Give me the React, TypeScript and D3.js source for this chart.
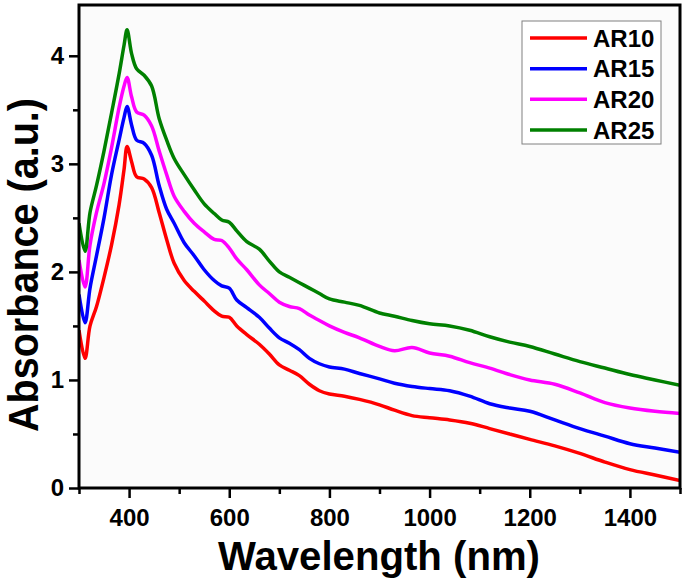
import React, { useEffect, useRef } from 'react'
import * as d3 from 'd3'

// wavelength grid (nm) shared by every spectrum
const wavelengths = [300, 312, 322, 335, 350, 365, 380, 390, 396, 405, 415, 430, 445, 460, 475, 490, 510, 530, 550, 570, 585, 600, 615, 635, 660, 680, 700, 720, 740, 760, 780, 800, 830, 860, 900, 930, 965, 1000, 1040, 1080, 1120, 1160, 1200, 1250, 1300, 1350, 1400, 1450, 1500]

const ar10 = [1.46, 1.20, 1.50, 1.68, 1.95, 2.25, 2.62, 2.95, 3.16, 3.02, 2.88, 2.86, 2.78, 2.55, 2.30, 2.08, 1.92, 1.82, 1.73, 1.64, 1.59, 1.58, 1.50, 1.42, 1.33, 1.24, 1.14, 1.09, 1.04, 0.96, 0.90, 0.87, 0.85, 0.82, 0.77, 0.72, 0.67, 0.65, 0.63, 0.60, 0.55, 0.50, 0.45, 0.39, 0.32, 0.24, 0.17, 0.12, 0.07]
const ar15 = [1.79, 1.53, 1.85, 2.15, 2.50, 2.90, 3.22, 3.43, 3.53, 3.36, 3.22, 3.19, 3.08, 2.80, 2.58, 2.45, 2.27, 2.15, 2.02, 1.92, 1.87, 1.85, 1.74, 1.67, 1.58, 1.48, 1.39, 1.34, 1.28, 1.20, 1.15, 1.12, 1.10, 1.06, 1.01, 0.97, 0.94, 0.92, 0.90, 0.85, 0.78, 0.74, 0.71, 0.63, 0.55, 0.48, 0.41, 0.37, 0.33]
const ar20 = [2.11, 1.86, 2.25, 2.55, 2.82, 3.15, 3.52, 3.72, 3.80, 3.62, 3.48, 3.45, 3.35, 3.12, 2.90, 2.70, 2.56, 2.45, 2.37, 2.30, 2.29, 2.22, 2.12, 2.02, 1.88, 1.80, 1.72, 1.68, 1.66, 1.60, 1.55, 1.50, 1.44, 1.39, 1.31, 1.27, 1.30, 1.25, 1.22, 1.16, 1.11, 1.05, 1.00, 0.96, 0.88, 0.79, 0.74, 0.71, 0.69]
const ar25 = [2.45, 2.19, 2.55, 2.80, 3.12, 3.47, 3.83, 4.10, 4.24, 4.02, 3.88, 3.82, 3.72, 3.42, 3.22, 3.05, 2.90, 2.76, 2.63, 2.54, 2.48, 2.46, 2.38, 2.28, 2.21, 2.10, 2.00, 1.95, 1.90, 1.85, 1.80, 1.75, 1.72, 1.69, 1.62, 1.59, 1.55, 1.52, 1.50, 1.46, 1.40, 1.35, 1.31, 1.24, 1.17, 1.11, 1.05, 1.00, 0.95]

const seriesNames = ['AR10', 'AR15', 'AR20', 'AR25']
const seriesValues = [ar10, ar15, ar20, ar25]
const seriesColors = ['#ff0000', '#0000ff', '#ff00ff', '#008000']

const xTicks = [400, 600, 800, 1000, 1200, 1400]
const xMinorTicks = [300, 500, 700, 900, 1100, 1300, 1500]
const yTicks = [0, 1, 2, 3, 4]
const yMinorTicks = [0.5, 1.5, 2.5, 3.5]

const font = '"Liberation Sans", Arial, sans-serif'

function App() {
  const ref = useRef<SVGSVGElement>(null)

  useEffect(() => {
    const svg = d3.select(ref.current)
    svg.selectAll('*').remove()

    const left = 79, right = 680, top = 5, bottom = 488

    const x = d3.scaleLinear().domain([300, 1500]).range([left, right])
    const y = d3.scaleLinear().domain([0, 4.47]).range([bottom, top])

    svg.append('rect')
      .attr('x', left).attr('y', top)
      .attr('width', right - left).attr('height', bottom - top)
      .attr('fill', '#fbfbfb')

    svg.append('clipPath').attr('id', 'plot-clip')
      .append('rect')
      .attr('x', left).attr('y', top)
      .attr('width', right - left).attr('height', bottom - top)

    const line = d3.line<number>()
      .x((d, i) => x(wavelengths[i]))
      .y(d => y(d))
      .curve(d3.curveCatmullRom.alpha(0.5))

    svg.append('g')
      .attr('clip-path', 'url(#plot-clip)')
      .selectAll('path')
      .data(seriesValues)
      .enter()
      .append('path')
      .attr('d', d => line(d))
      .attr('fill', 'none')
      .attr('stroke', (d, i) => seriesColors[i])
      .attr('stroke-width', 3.5)
      .attr('stroke-linejoin', 'round')

    // axes
    const xAxis = svg.append('g')
      .attr('transform', `translate(0,${bottom})`)
      .call(d3.axisBottom(x).tickValues(xTicks).tickSize(10).tickPadding(11).tickFormat(d3.format('d')))
    const xMinor = svg.append('g')
      .attr('transform', `translate(0,${bottom})`)
      .call(d3.axisBottom(x).tickValues(xMinorTicks).tickSize(6).tickFormat(() => ''))
    const yAxis = svg.append('g')
      .attr('transform', `translate(${left},0)`)
      .call(d3.axisLeft(y).tickValues(yTicks).tickSize(10).tickPadding(5).tickFormat(d3.format('d')))
    const yMinor = svg.append('g')
      .attr('transform', `translate(${left},0)`)
      .call(d3.axisLeft(y).tickValues(yMinorTicks).tickSize(6).tickFormat(() => ''))

    for (const g of [xAxis, xMinor, yAxis, yMinor]) {
      g.select('.domain').remove()
      g.selectAll('line').attr('stroke', '#000').attr('stroke-width', 2.5)
      g.selectAll('text')
        .attr('font-family', font)
        .attr('font-weight', 'bold')
        .attr('font-size', 24)
        .attr('fill', '#000')
    }

    // frame
    svg.append('rect')
      .attr('x', left).attr('y', top)
      .attr('width', right - left).attr('height', bottom - top)
      .attr('fill', 'none')
      .attr('stroke', '#000')
      .attr('stroke-width', 3)

    // axis titles
    svg.append('text')
      .attr('x', 379).attr('y', 570)
      .attr('text-anchor', 'middle')
      .attr('font-family', font).attr('font-weight', 'bold').attr('font-size', 41)
      .attr('textLength', 322).attr('lengthAdjust', 'spacingAndGlyphs')
      .text('Wavelength (nm)')

    svg.append('text')
      .attr('transform', 'translate(38,265) rotate(-90)')
      .attr('text-anchor', 'middle')
      .attr('font-family', font).attr('font-weight', 'bold').attr('font-size', 42)
      .attr('textLength', 334).attr('lengthAdjust', 'spacingAndGlyphs')
      .text('Absorbance (a.u.)')

    // legend
    const legend = svg.append('g')
    legend.append('rect')
      .attr('x', 522).attr('y', 21).attr('width', 139).attr('height', 123)
      .attr('fill', '#fff').attr('stroke', '#808080').attr('stroke-width', 1)

    const rowY = d3.scalePoint<string>().domain(seriesNames).range([38, 130])
    const rows = legend.selectAll('g.row')
      .data(seriesNames)
      .enter()
      .append('g')
      .attr('class', 'row')
    rows.append('line')
      .attr('x1', 530).attr('x2', 587)
      .attr('y1', d => rowY(d)!).attr('y2', d => rowY(d)!)
      .attr('stroke', (d, i) => seriesColors[i])
      .attr('stroke-width', 3.5)
    rows.append('text')
      .attr('x', 593).attr('y', d => rowY(d)! + 8.5)
      .attr('font-family', font).attr('font-weight', 'bold').attr('font-size', 24)
      .text(d => d)
  }, [])

  return (
    <svg ref={ref} width={685} height={579} style={{ position: 'absolute', left: 0, top: 0, background: '#fff' }}></svg>
  )
}

export default App
